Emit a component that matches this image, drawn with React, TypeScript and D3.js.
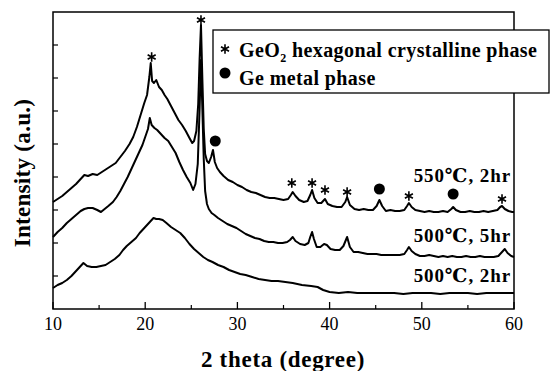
import React from "react";
import * as d3 from "d3";

// 2-theta range and ticks
const xTicksMajor = [10, 20, 30, 40, 50, 60];
const xTicksMinor = [15, 25, 35, 45, 55];

// [2theta, intensity (a.u.)]
const scan550 = [
  [10, 107], [10.5, 110], [11, 113], [11.5, 117], [12, 121], [12.5, 125], [13, 130], [13.4, 134],
  [13.8, 133], [14.3, 135], [14.8, 134], [15.3, 137], [15.8, 140], [16.3, 143], [16.8, 146],
  [17.3, 152], [17.8, 158], [18.3, 165], [18.7, 172], [19.1, 182], [19.5, 194], [19.9, 206],
  [20.2, 214], [20.45, 232], [20.6, 246], [20.75, 228], [20.95, 226], [21.2, 229], [21.5, 222],
  [21.8, 219], [22.1, 214], [22.4, 210], [22.8, 203], [23.2, 196], [23.6, 189], [24.0, 184],
  [24.4, 178], [24.8, 171], [25.1, 166], [25.3, 168], [25.55, 178], [25.75, 205], [25.9, 250],
  [26.05, 284], [26.2, 230], [26.35, 180], [26.5, 155], [26.7, 148], [26.9, 146], [27.15, 152],
  [27.35, 159], [27.55, 147], [27.8, 141], [28.1, 137], [28.5, 133], [29, 129], [29.5, 127],
  [30, 124], [30.5, 122], [31, 119], [31.5, 117], [32, 116], [32.5, 114], [33, 112], [33.5, 111],
  [34, 111], [34.5, 110], [35, 109], [35.5, 110], [35.8, 114], [36.0, 117], [36.3, 113],
  [36.7, 109], [37.2, 107], [37.6, 108], [37.9, 114], [38.1, 119], [38.35, 111], [38.7, 106],
  [39.1, 106], [39.5, 110], [39.8, 105], [40.3, 103], [40.8, 102], [41.3, 102], [41.7, 107],
  [41.9, 112], [42.2, 104], [42.7, 100], [43.2, 99], [43.7, 100], [44.2, 99], [44.7, 99],
  [45.1, 103], [45.4, 109], [45.7, 103], [46.1, 98], [46.6, 99], [47.1, 98], [47.6, 98],
  [48.1, 99], [48.4, 103], [48.6, 106], [48.9, 102], [49.3, 99], [49.8, 98], [50.3, 97],
  [50.8, 98], [51.3, 97], [51.8, 97], [52.3, 98], [52.8, 97], [53.2, 100], [53.4, 102],
  [53.7, 99], [54.2, 97], [54.7, 97], [55.2, 98], [55.7, 97], [56.2, 97], [56.7, 98], [57.2, 97],
  [57.7, 98], [58.2, 99], [58.5, 102], [58.7, 103], [59.0, 100], [59.4, 98], [59.8, 97], [60, 97],
];

const scan500_5 = [
  [10, 72], [10.5, 77], [11, 81], [11.5, 86], [12, 90], [12.5, 94], [13, 98], [13.4, 100],
  [13.8, 101], [14.3, 101], [14.8, 99], [15.2, 97], [15.6, 100], [16.0, 103], [16.5, 107],
  [16.9, 112], [17.3, 118], [17.7, 125], [18.1, 132], [18.5, 140], [18.9, 148], [19.3, 156],
  [19.7, 164], [20.0, 172], [20.3, 180], [20.5, 191], [20.7, 184], [21.0, 181], [21.3, 179],
  [21.7, 175], [22.1, 171], [22.5, 168], [22.9, 162], [23.3, 156], [23.7, 147], [24.1, 139],
  [24.5, 132], [24.9, 126], [25.2, 119], [25.45, 125], [25.7, 145], [25.9, 200], [26.05, 249],
  [26.2, 200], [26.35, 150], [26.5, 118], [26.7, 105], [26.9, 100], [27.2, 96], [27.5, 94],
  [27.9, 91], [28.4, 88], [28.9, 85], [29.4, 83], [29.9, 81], [30.4, 78], [30.9, 75], [31.4, 73],
  [31.9, 71], [32.4, 70], [32.9, 68], [33.4, 67], [33.9, 67], [34.4, 66], [34.9, 66], [35.4, 67],
  [35.7, 69], [36.0, 72], [36.3, 68], [36.8, 65], [37.3, 64], [37.7, 66], [37.9, 72], [38.1, 77],
  [38.3, 70], [38.6, 62], [39.0, 62], [39.4, 65], [39.7, 64], [40.1, 60], [40.6, 59], [41.1, 59],
  [41.5, 63], [41.9, 72], [42.2, 62], [42.6, 57], [43.1, 57], [43.6, 56], [44.1, 55], [44.6, 55],
  [45.1, 55], [45.6, 54], [46.1, 54], [46.6, 54], [47.1, 54], [47.6, 54], [48.1, 55], [48.4, 59],
  [48.6, 62], [48.9, 58], [49.3, 55], [49.8, 53], [50.3, 53], [50.8, 54], [51.3, 53], [51.8, 52],
  [52.3, 53], [52.8, 52], [53.3, 53], [53.8, 52], [54.3, 52], [54.8, 53], [55.3, 52], [55.8, 52],
  [56.3, 53], [56.8, 52], [57.3, 52], [57.8, 52], [58.3, 53], [58.7, 57], [59.0, 60], [59.3, 56],
  [59.7, 53], [60, 52],
];

const scan500_2 = [
  [10, 21], [10.5, 24], [11, 26], [11.5, 29], [12, 33], [12.5, 38], [13, 43], [13.3, 46],
  [13.7, 43], [14.2, 42], [14.7, 42], [15.2, 43], [15.7, 44], [16.2, 47], [16.7, 50], [17.2, 54],
  [17.6, 59], [18.0, 63], [18.5, 67], [19.0, 71], [19.4, 76], [19.8, 80], [20.2, 84], [20.6, 88],
  [20.9, 91], [21.2, 90], [21.5, 90], [21.9, 89], [22.3, 86], [22.8, 82], [23.3, 79], [23.8, 76],
  [24.3, 71], [24.8, 65], [25.3, 60], [25.8, 56], [26.3, 52], [26.8, 49], [27.3, 47], [27.9, 44],
  [28.5, 42], [29.1, 39], [29.7, 37], [30.3, 35], [30.9, 34], [31.6, 32], [32.3, 30], [33, 29],
  [33.7, 28], [34.4, 28], [35.2, 27], [36, 26], [37, 24], [38, 23], [38.7, 22], [39.3, 19],
  [40, 17], [41, 16], [42, 17], [43, 16], [44, 16], [45, 16], [46, 16], [47, 16], [48, 15],
  [49, 16], [50, 16], [51, 16], [52, 15], [53, 16], [54, 16], [55, 16], [56, 15], [57, 16],
  [58, 16], [59, 16], [60, 16],
];

// peak markers: GeO2 (*) and Ge metal (dot)
const geo2Peaks = [
  [20.7, 252], [26.05, 289], [35.9, 126], [38.1, 126], [39.5, 119], [41.9, 117], [48.6, 113], [58.7, 110],
];
const gePeaks = [[27.6, 168], [45.4, 120], [53.4, 115]];

const seriesLabels = [
  { text: "550℃, 2hr", y: 182 },
  { text: "500℃, 5hr", y: 242 },
  { text: "500℃, 2hr", y: 282 },
];

const width = 550;
const height = 371;
const margin = { top: 12, right: 36, bottom: 62, left: 53 };
const font = "Liberation Serif, Tinos, DejaVu Serif, Times New Roman, serif";

export default function App() {
  const x = d3
    .scaleLinear()
    .domain([10, 60])
    .range([margin.left, width - margin.right]);
  const y = d3
    .scaleLinear()
    .domain([0, 297])
    .range([height - margin.bottom, margin.top]);

  const line = d3
    .line<number[]>()
    .x((d) => x(d[0]))
    .y((d) => y(d[1]));

  const star = d3.symbol(d3.symbolAsterisk, 60)();
  const yTicks = d3.range(33, 297, 33);
  const x0 = margin.left;
  const x1 = width - margin.right;
  const yb = height - margin.bottom;

  return (
    <svg
      width={width}
      height={height}
      style={{ position: "absolute", left: 0, top: 0, background: "#fff", fontFamily: font }}
    >
      {/* curves */}
      {[scan550, scan500_5, scan500_2].map((s, i) => (
        <path
          key={i}
          d={line(s) || ""}
          fill="none"
          stroke="#000"
          strokeWidth={2}
          strokeLinejoin="round"
        />
      ))}

      {/* frame */}
      <rect
        x={x0}
        y={margin.top}
        width={x1 - x0}
        height={yb - margin.top}
        fill="none"
        stroke="#000"
        strokeWidth={1.5}
      />

      {/* x ticks (inside) */}
      {xTicksMajor.map((t) => (
        <g key={t}>
          <line x1={x(t)} x2={x(t)} y1={yb} y2={yb - 7} stroke="#000" strokeWidth={1.3} />
          <text x={x(t)} y={330} textAnchor="middle" style={{ fontFamily: font, fontSize: 18 }}>
            {t}
          </text>
        </g>
      ))}
      {xTicksMinor.map((t) => (
        <line key={t} x1={x(t)} x2={x(t)} y1={yb} y2={yb - 4} stroke="#000" strokeWidth={1.2} />
      ))}

      {/* y ticks (inside) */}
      {yTicks.map((t) => (
        <line key={t} x1={x0} x2={x0 + 5} y1={y(t)} y2={y(t)} stroke="#000" strokeWidth={1.2} />
      ))}

      {/* peak markers */}
      {geo2Peaks.map((p, i) => (
        <path
          key={i}
          d={star || ""}
          transform={`translate(${x(p[0])},${y(p[1])})`}
          stroke="#000"
          strokeWidth={1.6}
          fill="none"
        />
      ))}
      {gePeaks.map((p, i) => (
        <circle key={i} cx={x(p[0])} cy={y(p[1])} r={5.5} fill="#000" />
      ))}

      {/* series labels */}
      {seriesLabels.map((l) => (
        <text
          key={l.text}
          x={511}
          y={l.y}
          textAnchor="end"
          style={{ fontFamily: font, fontWeight: "bold", fontSize: 19, letterSpacing: 0.9 }}
        >
          {l.text}
        </text>
      ))}

      {/* legend */}
      <rect x={213} y={30} width={336} height={63} fill="#fff" stroke="#000" strokeWidth={1.3} />
      <path d={star || ""} transform="translate(225,49)" stroke="#000" strokeWidth={1.6} fill="none" />
      <text x={239} y={57} style={{ fontFamily: font, fontWeight: "bold", fontSize: 20, letterSpacing: 0.4 }}>
        GeO<tspan fontSize={12} dy={5}>2</tspan>
        <tspan dy={-5}> hexagonal crystalline phase</tspan>
      </text>
      <circle cx={225} cy={73} r={5.5} fill="#000" />
      <text x={239} y={85} style={{ fontFamily: font, fontWeight: "bold", fontSize: 20, letterSpacing: 0.4 }}>
        Ge metal phase
      </text>

      {/* axis titles */}
      <text
        x={283}
        y={367}
        textAnchor="middle"
        style={{ fontFamily: font, fontWeight: "bold", fontSize: 23, letterSpacing: 0.7 }}
      >
        2 theta (degree)
      </text>
      <text
        transform="translate(30,173) rotate(-90)"
        textAnchor="middle"
        style={{ fontFamily: font, fontWeight: "bold", fontSize: 23, letterSpacing: 0.3 }}
      >
        Intensity (a.u.)
      </text>
    </svg>
  );
}
